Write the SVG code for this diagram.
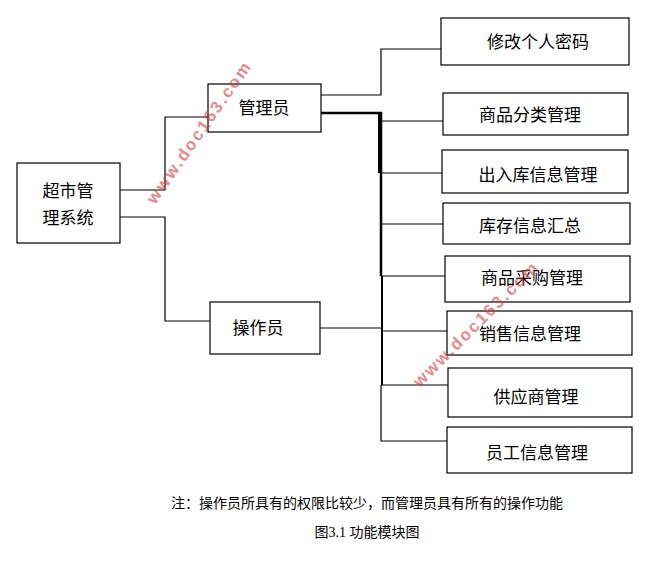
<svg xmlns="http://www.w3.org/2000/svg" width="660" height="565" viewBox="0 0 660 565">
<style>
rect{fill:#fff;stroke:#000;stroke-width:1.2}
text{font-family:"Liberation Serif","Noto Sans CJK SC",serif;font-size:17px;fill:#000}
.c{text-anchor:middle}
.l{fill:none;stroke:#000;stroke-width:1.2}
.wm{font-family:"Liberation Sans",sans-serif;font-size:17px;font-weight:bold;fill:#d04040;opacity:0.6;letter-spacing:2px}
</style>
<rect width="660" height="565" style="fill:#fff;stroke:none"/>
<g id="connectors">
<path class="l" d="M120 190H165V117H208M120 217H165V321H210M321 95H381V49H442"/>
<path class="l" style="stroke-width:2.5" d="M318 113H381V276"/>
<path class="l" style="stroke-width:4" d="M380 113V173"/>
<path class="l" style="stroke-width:2" d="M382 276V385"/>
<path class="l" d="M381 385V441H447M381 121H443M381 173H442M381 224H443M381 276H445M381 331H447M381 385H448M320 328H381"/>
</g>
<g id="sys"><rect x="17" y="163" width="103" height="80"/><text x="68" y="197" class="c">超市管</text><text x="68" y="224" class="c">理系统</text></g>
<g id="mgr"><rect x="208" y="84" width="113" height="48"/><text x="264" y="114" class="c">管理员</text></g>
<g id="op"><rect x="210" y="302" width="110" height="52"/><text x="258" y="334" class="c">操作员</text></g>
<g id="b1"><rect x="441" y="18" width="188" height="47"/><text x="538" y="48" class="c">修改个人密码</text></g>
<g id="b2"><rect x="443" y="93" width="185" height="42"/><text x="530" y="121" class="c">商品分类管理</text></g>
<g id="b3"><rect x="442" y="150" width="186" height="43"/><text x="538" y="181" class="c">出入库信息管理</text></g>
<g id="b4"><rect x="443" y="203" width="187" height="41"/><text x="530" y="232" class="c">库存信息汇总</text></g>
<g id="b5"><rect x="445" y="256" width="185" height="46"/><text x="532" y="284" class="c">商品采购管理</text></g>
<g id="b6"><rect x="447" y="311" width="185" height="44"/><text x="530" y="340" class="c">销售信息管理</text></g>
<g id="b7"><rect x="448" y="368" width="184" height="49"/><text x="536" y="403" class="c">供应商管理</text></g>
<g id="b8"><rect x="447" y="427" width="185" height="46"/><text x="537" y="459" class="c">员工信息管理</text></g>
<text x="155" y="205" class="wm" transform="rotate(-55 155 205)">www.doc163.com</text>
<text x="420" y="388" class="wm" transform="rotate(-45 420 388)">www.doc163.com</text>
<text x="367" y="508" class="c" style="font-size:14px">注：操作员所具有的权限比较少，而管理员具有所有的操作功能</text>
<text x="367" y="537" class="c" style="font-size:14px">图3.1 功能模块图</text>
</svg>
